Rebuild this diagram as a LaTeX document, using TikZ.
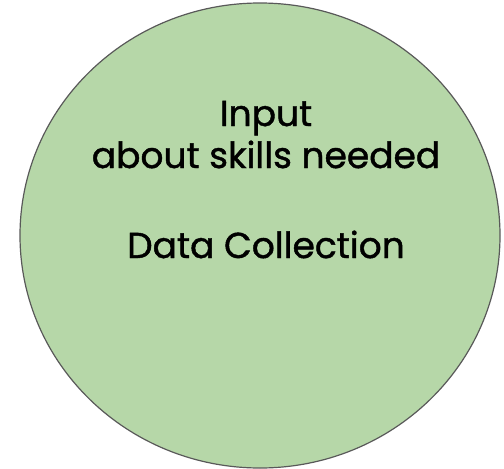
\documentclass[tikz,border=0pt]{standalone}
\usepackage{fontspec}
\setmainfont{Poppins}[FakeBold=1.2]
\definecolor{fillgreen}{HTML}{B6D7A8}
\definecolor{edgegray}{HTML}{595959}
\begin{document}
\begin{tikzpicture}[x=1pt,y=-1pt,
  lbl/.style={anchor=base,inner sep=0pt,font=\fontsize{36}{42}\selectfont,text=black}]
\useasboundingbox (0,0) rectangle (504,469);
\draw[fill=fillgreen,draw=edgegray,line width=1.2pt] (260,235.5) ellipse [x radius=240,y radius=232.5];
\node[lbl] (l1) at (266,126) {Input};
\node[lbl] (l2) at (266,168) {about skills needed};
\node[lbl] (l3) at (266,258) {Data Collection};
\end{tikzpicture}
\end{document}
